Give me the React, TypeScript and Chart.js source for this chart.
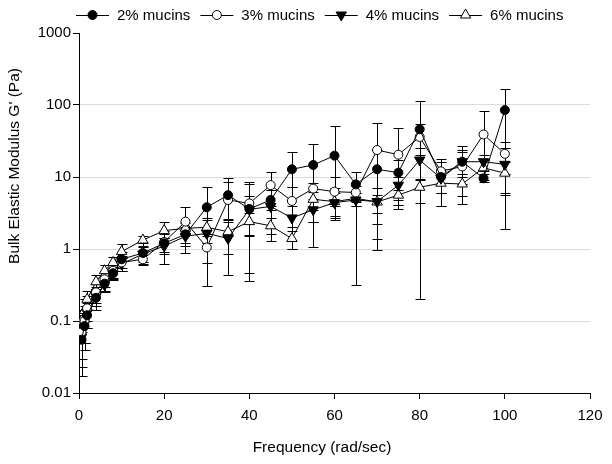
import React, { useEffect, useRef } from "react";
import { Chart, registerables } from "chart.js";

Chart.register(...registerables);

// ---------- data ----------
const frequency = [0.6, 1.3, 1.9, 4, 6, 8, 10, 15, 20, 25, 30, 35, 40, 45, 50, 55, 60, 65, 70, 75, 80, 85, 90, 95, 100];
const seriesLabels = ["2% mucins", "3% mucins", "4% mucins", "6% mucins"];

const mucin2 = [0.055, 0.085, 0.12, 0.21, 0.33, 0.46, 0.72, 0.88, 1.2, 1.6, 3.8, 5.6, 3.6, 4.8, 12.8, 14.7, 19.8, 7.9, 12.8, 11.5, 46, 10, 16.3, 9.6, 85];
const mucin2Hi = [0.095, 0.13, 0.16, 0.3, 0.42, 0.56, 0.9, 1.2, 1.8, 2.0, 7.2, 9.8, 8.6, 6.5, 22.4, 28.4, 51, 11.9, 24, 17, 114, 17.8, 27.3, 11, 166];
const mucin2Lo = [0.017, 0.04, 0.08, 0.14, 0.26, 0.38, 0.55, 0.61, 0.62, 1.2, 0.31, 2.5, 0.36, 3.5, 7.2, 1.08, 2.7, 0.32, 1.36, 3.55, 0.2, 3.9, 4.2, 8.5, 1.9];

const mucin3 = [0.07, 0.1, 0.15, 0.25, 0.38, 0.5, 0.65, 0.72, 1.25, 2.4, 1.05, 4.8, 4.3, 7.7, 4.65, 6.9, 6.25, 6.1, 23.7, 20.4, 36, 12, 14, 39, 21];
const mucin3Hi = [0.12, 0.16, 0.22, 0.33, 0.48, 0.6, 0.8, 0.9, 1.6, 3.8, 1.5, 8.5, 8, 11.6, 7.2, 8.2, 10, 7.5, 55.6, 47.6, 55, 16, 22, 83, 31];
const mucin3Lo = [0.023, 0.05, 0.1, 0.18, 0.3, 0.4, 0.5, 0.6, 0.9, 0.88, 0.64, 1.5, 0.46, 4, 2.0, 2.4, 4, 4.5, 0.97, 4.1, 20, 6, 8, 17, 11];

const mucin4 = [0.06, 0.09, 0.13, 0.22, 0.32, 0.45, 0.62, 0.85, 1.1, 1.5, 1.65, 1.4, 3.55, 3.9, 2.7, 3.5, 4.4, 4.8, 4.55, 7.7, 17.2, 9.6, 16.3, 16.3, 15];
const mucin4Hi = [0.09, 0.13, 0.18, 0.28, 0.4, 0.55, 0.75, 1.05, 1.4, 1.9, 2.7, 2.4, 5.5, 6.5, 4, 5, 6, 6, 7, 10, 25, 13, 24, 20, 25];
const mucin4Lo = [0.03, 0.05, 0.08, 0.16, 0.25, 0.37, 0.5, 0.65, 0.85, 1.1, 1.2, 0.43, 1.5, 1.29, 1.0, 2.4, 2.5, 4, 2.2, 4.1, 9.3, 5.9, 10, 12, 5.6];

const mucin6 = [0.1, 0.14, 0.2, 0.35, 0.5, 0.65, 0.92, 1.33, 1.8, 1.94, 2.0, 1.74, 2.4, 2.1, 1.4, 4.9, 4.55, 5.05, 4.5, 5.6, 7.2, 8.2, 8.0, 13.4, 11.3];
const mucin6Hi = [0.14, 0.2, 0.26, 0.44, 0.6, 0.78, 1.17, 1.53, 2.4, 2.3, 2.5, 2.6, 3.2, 2.7, 1.8, 6.2, 7, 6, 5.6, 6.5, 9, 12, 11, 17, 16];
const mucin6Lo = [0.07, 0.1, 0.14, 0.28, 0.42, 0.55, 0.75, 1.1, 1.4, 1.6, 1.6, 0.85, 1.56, 1.6, 1.0, 3.5, 2.9, 4, 3.2, 4.8, 4.4, 3.9, 5.5, 9, 6];

const yTicks = [0.01, 0.1, 1, 10, 100, 1000];
const xTicks = [0, 20, 40, 60, 80, 100, 120];

const xTitle = "Frequency (rad/sec)";
const yTitle = "Bulk Elastic Modulus G' (Pa)";

// ---------- styles ----------
const FONT = "'Liberation Sans', Arial, sans-serif";
const markerStyles = [
  { style: "circle", fill: "#000", radius: 4.5, rotation: 0 },
  { style: "circle", fill: "#fff", radius: 4.5, rotation: 0 },
  { style: "triangle", fill: "#000", radius: 6, rotation: 180 },
  { style: "triangle", fill: "#fff", radius: 6, rotation: 0 },
];
const seriesValues = [mucin2, mucin3, mucin4, mucin6];
const seriesHi = [mucin2Hi, mucin3Hi, mucin4Hi, mucin6Hi];
const seriesLo = [mucin2Lo, mucin3Lo, mucin4Lo, mucin6Lo];

function drawMarker(ctx: CanvasRenderingContext2D, m: any, x: number, y: number) {
  ctx.save();
  ctx.beginPath();
  if (m.style === "circle") {
    ctx.arc(x, y, m.radius, 0, Math.PI * 2);
  } else {
    let rad = (m.rotation * Math.PI) / 180;
    const r = m.radius;
    ctx.moveTo(x + Math.sin(rad) * r, y - Math.cos(rad) * r);
    rad += (2 * Math.PI) / 3;
    ctx.lineTo(x + Math.sin(rad) * r, y - Math.cos(rad) * r);
    rad += (2 * Math.PI) / 3;
    ctx.lineTo(x + Math.sin(rad) * r, y - Math.cos(rad) * r);
    ctx.closePath();
  }
  ctx.fillStyle = m.fill;
  ctx.fill();
  ctx.lineWidth = 1;
  ctx.strokeStyle = "#000";
  ctx.stroke();
  ctx.restore();
}

const errorBarPlugin = {
  id: "errorBars",
  beforeDatasetsDraw(chart: any) {
    const { ctx, chartArea } = chart;
    const xs = chart.scales.x;
    const ys = chart.scales.y;
    ctx.save();
    ctx.beginPath();
    ctx.rect(chartArea.left, chartArea.top - 1, chartArea.right - chartArea.left, chartArea.bottom - chartArea.top + 1);
    ctx.clip();
    ctx.strokeStyle = "#000";
    ctx.lineWidth = 1;
    const cap = 5;
    seriesValues.forEach((vals, si) => {
      vals.forEach((_v, i) => {
        const x = Math.round(xs.getPixelForValue(frequency[i])) + 0.5;
        const hi = seriesHi[si][i];
        const lo = seriesLo[si][i];
        const yHi = Math.round(ys.getPixelForValue(hi)) + 0.5;
        const yLo = lo > 0 ? Math.round(ys.getPixelForValue(lo)) + 0.5 : chartArea.bottom;
        ctx.beginPath();
        ctx.moveTo(x, yHi);
        ctx.lineTo(x, yLo);
        ctx.moveTo(x - cap, yHi);
        ctx.lineTo(x + cap, yHi);
        if (lo > 0) {
          ctx.moveTo(x - cap, yLo);
          ctx.lineTo(x + cap, yLo);
        }
        ctx.stroke();
      });
    });
    ctx.restore();
  },
};

const decorPlugin = {
  id: "decor",
  afterDraw(chart: any) {
    const { ctx } = chart;
    ctx.save();
    ctx.fillStyle = "#000";
    // axis titles
    ctx.font = `15.5px ${FONT}`;
    ctx.textAlign = "center";
    ctx.textBaseline = "middle";
    ctx.fillText(xTitle, 322, 448);
    ctx.save();
    ctx.translate(15, 166);
    ctx.rotate(-Math.PI / 2);
    ctx.fillText(yTitle, 0, 0);
    ctx.restore();
    // legend
    ctx.font = `15px ${FONT}`;
    ctx.textAlign = "left";
    let x = 76;
    const y = 15;
    const lineLen = 33;
    seriesLabels.forEach((label, i) => {
      ctx.beginPath();
      ctx.strokeStyle = "#000";
      ctx.lineWidth = 1;
      ctx.moveTo(x, y + 0.5);
      ctx.lineTo(x + lineLen, y + 0.5);
      ctx.stroke();
      drawMarker(ctx, markerStyles[i], x + lineLen / 2, y);
      const tx = x + lineLen + 8;
      ctx.fillStyle = "#000";
      ctx.fillText(label, tx, y + 1);
      x = tx + ctx.measureText(label).width + 10;
    });
    ctx.restore();
  },
};

export default function App() {
  const ref = useRef<HTMLCanvasElement | null>(null);
  useEffect(() => {
    if (!ref.current) return;
    const datasets = seriesLabels.map((label, si) => ({
      label,
      data: frequency.map((f, i) => ({ x: f, y: seriesValues[si][i] })),
      borderColor: "#000",
      borderWidth: 1,
      backgroundColor: markerStyles[si].fill,
      pointStyle: markerStyles[si].style,
      pointRadius: markerStyles[si].radius,
      pointRotation: markerStyles[si].rotation,
      pointBackgroundColor: markerStyles[si].fill,
      pointBorderColor: "#000",
      pointBorderWidth: 1,
      tension: 0,
      fill: false,
    }));
    const chart = new Chart(ref.current, {
      type: "line",
      data: { datasets },
      options: {
        animation: false,
        responsive: false,
        layout: { padding: { left: 0, right: 22, top: 33, bottom: 0 } },
        plugins: {
          legend: { display: false },
          tooltip: { enabled: false },
        },
        scales: {
          x: {
            type: "linear",
            min: 0,
            max: 120,
            afterBuildTicks: (s: any) => {
              s.ticks = xTicks.map((v) => ({ value: v }));
            },
            ticks: {
              color: "#000",
              font: { family: FONT, size: 15 },
              padding: 8,
              autoSkip: false,
              maxRotation: 0,
            },
            grid: {
              color: "rgba(0,0,0,0)",
              tickColor: "#000",
              tickLength: 6,
              drawTicks: true,
            },
            border: { color: "#000", width: 1 },
            afterFit: (s: any) => {
              s.height = 71;
            },
          },
          y: {
            type: "logarithmic",
            min: 0.01,
            max: 1000,
            afterBuildTicks: (s: any) => {
              s.ticks = yTicks.map((v) => ({ value: v }));
            },
            ticks: {
              color: "#000",
              font: { family: FONT, size: 15 },
              padding: 2,
              autoSkip: false,
              callback: (v: any) => String(v),
            },
            grid: {
              color: (c: any) =>
                c.tick && (c.tick.value === 0.01 || c.tick.value === 1000) ? "rgba(0,0,0,0)" : "#dcdcdc",
              tickColor: "#000",
              tickLength: 6,
              drawTicks: true,
            },
            border: { color: "#000", width: 1 },
            afterFit: (s: any) => {
              s.width = 79;
            },
          },
        },
      },
      plugins: [errorBarPlugin, decorPlugin],
    });
    return () => chart.destroy();
  }, []);
  return (
    <div style={{ position: "absolute", left: 0, top: 0, width: 612, height: 464, background: "#fff" }}>
      <canvas ref={ref} width={612} height={464} style={{ display: "block" }} />
    </div>
  );
}
